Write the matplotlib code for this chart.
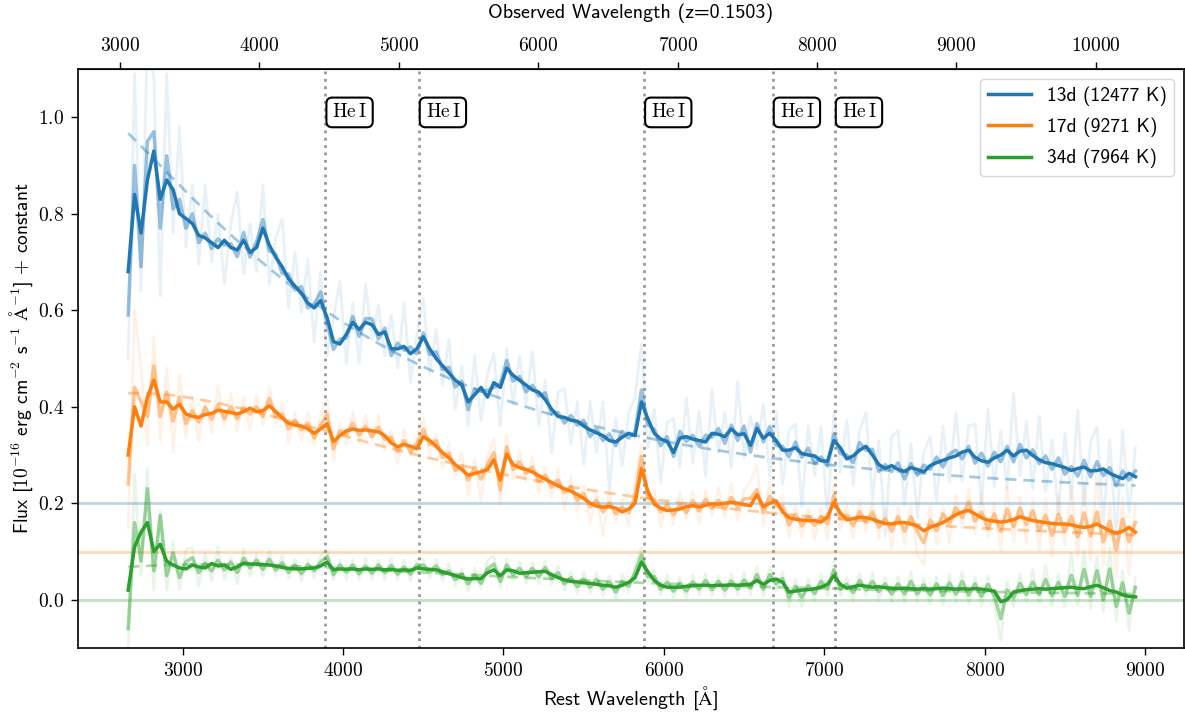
import numpy as np
import matplotlib
matplotlib.use("Agg")
import matplotlib.pyplot as plt
from matplotlib.ticker import FuncFormatter, MultipleLocator, FixedLocator

plt.rcParams['font.family'] = 'cmss10'
plt.rcParams['mathtext.fontset'] = 'cm'
plt.rcParams['axes.unicode_minus'] = False
plt.rcParams['axes.formatter.use_mathtext'] = True

# ---------------------------------------------------------------- data
z = 0.1503
wave = np.arange(2660, 8941, 40)          # rest wavelength grid [Å]

epochs = ['13d', '17d', '34d']
temps = [12477, 9271, 7964]               # blackbody temperatures [K]
offsets = [0.2, 0.1, 0.0]                 # vertical offsets
colors = ['#1f77b4', '#ff7f0e', '#2ca02c']
bb_flux_4000 = [0.375, 0.24, 0.065]       # blackbody flux at 4000 Å
he_lines = [3889, 4471, 5876, 6678, 7065]
obs_ticks = [3000, 4000, 5000, 6000, 7000, 8000, 9000, 10000]

# smoothed spectra (10^-16 erg cm^-2 s^-1 Å^-1)
flux_13d = [0.48, 0.64, 0.56, 0.67, 0.73, 0.63, 0.67, 0.65, 0.60, 0.59,
            0.58, 0.555, 0.55, 0.54, 0.53, 0.545, 0.53, 0.525, 0.545, 0.52,
            0.53, 0.57, 0.535, 0.51, 0.49, 0.465, 0.45, 0.435, 0.415, 0.405,
            0.42, 0.385, 0.335, 0.33, 0.35, 0.375, 0.36, 0.375, 0.37, 0.35,
            0.355, 0.32, 0.32, 0.325, 0.31, 0.32, 0.345, 0.32, 0.30, 0.285,
            0.27, 0.255, 0.245, 0.21, 0.225, 0.24, 0.22, 0.25, 0.24, 0.28,
            0.265, 0.255, 0.245, 0.235, 0.23, 0.215, 0.195, 0.18, 0.178, 0.172,
            0.17, 0.16, 0.152, 0.146, 0.14, 0.13, 0.127, 0.137, 0.145, 0.14,
            0.21, 0.175, 0.145, 0.133, 0.128, 0.105, 0.135, 0.138, 0.133, 0.13,
            0.127, 0.145, 0.143, 0.138, 0.154, 0.142, 0.144, 0.12, 0.155, 0.135,
            0.145, 0.13, 0.11, 0.11, 0.115, 0.103, 0.10, 0.098, 0.088, 0.087,
            0.13, 0.115, 0.092, 0.098, 0.11, 0.118, 0.10, 0.08, 0.072, 0.078,
            0.07, 0.066, 0.074, 0.07, 0.065, 0.078, 0.084, 0.089, 0.094, 0.098,
            0.106, 0.11, 0.095, 0.088, 0.085, 0.094, 0.10, 0.11, 0.098, 0.108,
            0.11, 0.099, 0.09, 0.084, 0.082, 0.078, 0.074, 0.068, 0.072, 0.075,
            0.067, 0.068, 0.071, 0.062, 0.056, 0.051, 0.062, 0.055]

flux_17d = [0.20, 0.30, 0.26, 0.32, 0.355, 0.31, 0.31, 0.295, 0.305, 0.285,
            0.28, 0.278, 0.284, 0.286, 0.293, 0.29, 0.288, 0.285, 0.29, 0.297,
            0.29, 0.292, 0.302, 0.29, 0.277, 0.266, 0.262, 0.26, 0.254, 0.245,
            0.254, 0.265, 0.228, 0.24, 0.25, 0.254, 0.251, 0.252, 0.25, 0.248,
            0.24, 0.225, 0.217, 0.222, 0.218, 0.213, 0.238, 0.23, 0.218, 0.205,
            0.194, 0.18, 0.17, 0.158, 0.162, 0.165, 0.17, 0.19, 0.148, 0.202,
            0.18, 0.174, 0.17, 0.165, 0.157, 0.15, 0.143, 0.136, 0.13, 0.125,
            0.118, 0.11, 0.10, 0.094, 0.092, 0.093, 0.09, 0.082, 0.088, 0.10,
            0.172, 0.125, 0.098, 0.09, 0.085, 0.086, 0.088, 0.093, 0.095, 0.092,
            0.096, 0.099, 0.098, 0.10, 0.102, 0.10, 0.097, 0.095, 0.118, 0.093,
            0.10, 0.105, 0.082, 0.07, 0.067, 0.065, 0.064, 0.064, 0.061, 0.072,
            0.102, 0.08, 0.066, 0.068, 0.071, 0.07, 0.067, 0.062, 0.058, 0.057,
            0.06, 0.06, 0.057, 0.053, 0.043, 0.05, 0.055, 0.06, 0.068, 0.076,
            0.082, 0.085, 0.078, 0.07, 0.065, 0.063, 0.061, 0.063, 0.066, 0.072,
            0.068, 0.064, 0.062, 0.06, 0.058, 0.057, 0.057, 0.055, 0.052, 0.05,
            0.052, 0.057, 0.05, 0.043, 0.038, 0.042, 0.05, 0.04]

flux_34d = [0.02, 0.11, 0.14, 0.16, 0.10, 0.115, 0.08, 0.072, 0.066, 0.064,
            0.072, 0.068, 0.066, 0.075, 0.07, 0.072, 0.063, 0.068, 0.076, 0.074,
            0.074, 0.073, 0.072, 0.07, 0.067, 0.065, 0.064, 0.064, 0.065, 0.066,
            0.07, 0.078, 0.062, 0.064, 0.063, 0.064, 0.062, 0.064, 0.063, 0.064,
            0.062, 0.063, 0.061, 0.062, 0.061, 0.066, 0.064, 0.063, 0.062, 0.058,
            0.054, 0.05, 0.046, 0.043, 0.044, 0.044, 0.056, 0.062, 0.05, 0.062,
            0.06, 0.055, 0.056, 0.057, 0.058, 0.059, 0.052, 0.046, 0.041, 0.038,
            0.037, 0.035, 0.034, 0.032, 0.03, 0.029, 0.026, 0.03, 0.036, 0.046,
            0.078, 0.058, 0.04, 0.03, 0.026, 0.026, 0.026, 0.028, 0.029, 0.03,
            0.03, 0.029, 0.03, 0.03, 0.031, 0.03, 0.031, 0.032, 0.04, 0.032,
            0.04, 0.043, 0.036, 0.016, 0.018, 0.02, 0.021, 0.023, 0.026, 0.032,
            0.05, 0.032, 0.024, 0.027, 0.03, 0.028, 0.026, 0.027, 0.025, 0.024,
            0.023, 0.024, 0.023, 0.022, 0.023, 0.022, 0.023, 0.024, 0.023, 0.022,
            0.023, 0.022, 0.023, 0.022, 0.02, 0.018, -0.004, 0.0, 0.016, 0.019,
            0.021, 0.022, 0.023, 0.022, 0.023, 0.024, 0.025, 0.026, 0.024, 0.023,
            0.027, 0.03, 0.025, 0.019, 0.016, 0.01, 0.007, 0.006]

# binned-spectrum departures from the smoothed curve (units of 0.001)
binned_13d = [-90, 60, -70, 80, 40, -60, 50, -40, 30, -20,
              20, -15, 10, -12, 18, -10, 8, -14, 16, -10,
              12, 18, -12, 6, -14, 10, -8, 14, -10, 8,
              18, -12, -16, 10, -8, 12, -14, 8, 12, -10,
              8, -14, 12, -8, 14, -10, 8, -12, 14, -8,
              12, -14, 8, -16, 12, -8, 14, -10, 8, 16,
              -12, 8, -14, 10, -8, 14, -10, 8, -12, 10,
              -8, 12, -14, 8, -10, 14, -8, 12, -10, 8,
              25, -12, 8, -14, 10, -8, 14, -10, 8, -12,
              14, -8, 12, -14, 8, -12, 16, -14, 10, -8,
              14, -10, 8, -14, 12, -8, 14, -16, 8, -10,
              14, -12, 8, -14, 16, -8, 12, -14, 8, -12,
              14, -16, 8, -12, 14, -8, 12, -14, 8, 12,
              -14, 8, -12, 16, -8, 12, -14, 8, -12, 14,
              -16, 12, -8, 14, -12, 16, -14, 8, -16, 14,
              -12, 18, -14, 12, -20, 16, -14, 12]
binned_17d = [-60, 40, 50, -40, 30, -30, 20, -25, 15, -20,
              12, -10, 15, -12, 10, -15, 12, -10, 8, -12,
              10, -12, 15, -10, 8, -12, 10, -8, 12, -10,
              8, 20, -15, 10, -8, 12, -10, 8, -12, 10,
              -8, 12, -10, 8, -12, 10, 15, -8, 12, -10,
              10, -12, 8, -10, 12, -15, 10, 15, -20, 15,
              -10, 12, -8, 10, -12, 8, -10, 12, -8, 10,
              -12, 10, -8, 12, -10, 8, -12, 10, -8, 12,
              25, -12, 10, -8, 12, -10, 8, -12, 10, -8,
              12, -10, 8, -12, 10, -8, 12, 15, 10, -12,
              15, -10, 12, -15, 10, -12, 8, -10, 12, -15,
              15, -12, 10, -15, 12, -10, 15, -12, 10, -15,
              12, -18, 15, -12, -25, 15, -12, 18, -10, 15,
              -12, 18, -15, 12, -18, 15, -20, 25, -15, 18,
              -12, 20, -18, 15, -25, 20, -15, 18, -22, 30,
              -20, 25, -30, 20, -35, 25, -30, 20]
binned_34d = [-80, 50, -60, 70, -40, 60, -30, 25, -20, 15,
              15, -12, 10, -15, 12, -10, 15, -12, 10, -8,
              8, -10, 12, -8, 10, -8, 8, -10, 8, -6,
              8, 12, -10, 8, -6, 8, -8, 6, -8, 8,
              -6, 8, -8, 6, -8, 6, 8, -6, 8, -6,
              6, -8, 8, -10, 8, -10, 8, 12, -12, 10,
              -8, 10, -8, 8, -10, 8, -8, 10, -8, 8,
              -10, 8, -8, 10, -8, 8, -10, 8, -8, 10,
              15, -10, 8, -8, 10, -8, 8, -10, 8, -8,
              10, -8, 8, -10, 8, -8, 10, -8, 12, -10,
              12, -10, 8, -12, 10, -15, 8, -10, 12, -10,
              12, -10, 8, -12, 10, -8, 12, -10, 8, -12,
              10, -12, 15, -10, 8, -12, 10, -15, 12, -10,
              15, -12, 10, -15, 12, -10, -35, 20, -12, 15,
              -10, 15, -12, 20, -15, 12, -18, 25, -15, 40,
              -20, 30, -25, 45, -30, 25, -35, 20]

# raw-spectrum departures from the smoothed curve (units of 0.001)
raw_13d = [-180, 250, -120, 300, 150, -200, 220, -90, 180, -60,
           80, -60, 110, -40, 70, -90, 50, 120, -70, 60,
           -50, 90, -80, 40, 100, -60, 70, -40, 90, -70,
           60, -80, 50, 130, -60, 40, -70, 80, -30, 60,
           -50, 70, -40, 90, -60, 30, 80, -50, 60, -40,
           70, -60, 40, -50, 80, -70, 50, 60, -80, 40,
           -60, 50, -40, 80, -70, 40, -90, 50, 60, -50,
           40, -80, 60, -40, 70, -100, 50, -60, 40, 80,
           120, -60, 50, -90, 40, 70, -60, 80, -50, 60,
           -70, 90, -40, 50, -80, 110, -50, 60, -40, 70,
           -90, 60, -70, 40, 50, -110, 60, -40, 70, -120,
           60, -50, 80, -60, 40, 70, -90, 50, -140, 60,
           80, -70, 50, -100, 40, 60, -80, 70, -50, 90,
           -60, 50, 70, -90, 110, -60, 50, -80, 130, -50,
           60, -70, 90, -60, 50, -100, 70, -60, 120, -80,
           60, 90, -110, 70, -130, 100, -80, 60]
raw_17d = [-150, 200, 120, -100, 90, -80, 70, -90, 60, -50,
           40, -50, 30, -40, 50, -30, 40, -35, 30, -45,
           35, -30, 40, -25, 30, -40, 25, -30, 35, -25,
           30, 50, -40, 25, -30, 35, -25, 30, -20, 35,
           -30, 25, -35, 30, -20, 25, 40, -30, 25, -35,
           30, -25, 35, -40, 30, -60, 25, 45, -50, 40,
           -30, 35, -25, 30, -35, 25, -30, 35, -40, 30,
           -35, 25, -40, 30, -60, 35, -30, 25, -35, 40,
           50, -35, 30, -40, 25, -30, 35, -25, 30, -35,
           30, -25, 35, -30, 40, -35, 30, 50, 60, -40,
           45, -30, 35, -40, 30, -35, 25, -40, 30, -45,
           40, -35, 30, -40, 35, -30, 40, -35, 30, -50,
           35, -45, 40, -60, -70, 45, -40, 35, -50, 40,
           -35, 45, -40, 50, -35, 40, -60, 70, -45, 40,
           -50, 45, -60, 50, -70, 60, -45, 80, -60, 90,
           -70, 110, -80, 60, -90, 70, -100, 60]
raw_34d = [-120, 150, -90, 110, -80, 70, -60, 50, -45, 40,
           35, -40, 30, -35, 40, -30, 25, -35, 30, -25,
           20, -25, 30, -20, 25, -20, 20, -25, 18, -20,
           22, 25, -20, 18, -22, 20, -18, 22, -20, 18,
           -20, 22, -18, 20, -22, 18, 20, -18, 22, -20,
           20, -22, 18, -25, 22, -20, 25, 30, -25, 22,
           -20, 25, -22, 20, -25, 22, -20, 25, -22, 20,
           -25, 22, -20, 25, -22, 20, -25, 22, -20, 25,
           30, -25, 22, -20, 25, -22, 20, -25, 22, -20,
           25, -22, 20, -25, 22, -20, 25, -22, 28, -25,
           28, -25, 22, -30, 25, -35, 22, -25, 28, -25,
           30, -25, 22, -30, 25, -20, 30, -28, 22, -30,
           25, -30, 35, -25, 22, -30, 25, -35, 30, -25,
           35, -30, 25, -35, 30, -25, -80, 40, -30, 35,
           -25, 40, -30, 50, -35, 30, -40, 70, -35, 80,
           -45, 60, -50, 90, -60, 50, -70, 40]

smooth = [flux_13d, flux_17d, flux_34d]
binned = [binned_13d, binned_17d, binned_34d]
raw = [raw_13d, raw_17d, raw_34d]


def planck(wl, temp):
    """Planck B_lambda shape (arbitrary units), wl in Å."""
    x = 1.4388e8 / (wl * temp)
    return wl ** -5.0 / np.expm1(x)


# ---------------------------------------------------------------- figure
fig = plt.figure(figsize=(11.85, 7.15), dpi=100)
ax = fig.add_axes([0.0658, 0.0937, 0.9334, 0.8098])

for k in range(3):
    c, off = colors[k], offsets[k]
    s = np.asarray(smooth[k]) + off
    ax.axhline(off, color=c, alpha=0.3, lw=2, zorder=1)
    ax.plot(wave, s + np.asarray(raw[k]) * 1e-3, color=c, alpha=0.1, lw=2, zorder=2)
    ax.plot(wave, s + np.asarray(binned[k]) * 1e-3, color=c, alpha=0.45, lw=2.5, zorder=3)
    ax.plot(wave, s, color=c, lw=2.5, zorder=4,
            label=f'{epochs[k]} ({temps[k]} K)')
    bb = planck(wave * (1 + z), temps[k]) / planck(4000 * (1 + z), temps[k])
    ax.plot(wave, bb_flux_4000[k] * bb + off, color=c, alpha=0.4, lw=2,
            ls=(0, (4, 2.5)), zorder=3)

for wl in he_lines:
    ax.axvline(wl, color='0.6', ls=':', lw=2, zorder=0)
    ax.annotate(r'$\mathrm{He\,I}$', xy=(wl, 1.01), xytext=(5, 0),
                textcoords='offset points', ha='left', va='center', fontsize=14,
                bbox=dict(boxstyle='round,pad=0.3', fc='white', ec='black', lw=1.5),
                zorder=6)

ax.set_xlim(2347, 9243)
ax.set_ylim(-0.1, 1.1)
ax.xaxis.set_major_locator(MultipleLocator(1000))
ax.yaxis.set_major_locator(MultipleLocator(0.2))
ax.xaxis.set_major_formatter(FuncFormatter(lambda v, p: f'${v:.0f}$'))
ax.yaxis.set_major_formatter(FuncFormatter(lambda v, p: f'${v:.1f}$'))
ax.tick_params(labelsize=14, length=5, width=1, pad=5)
for sp in ax.spines.values():
    sp.set_linewidth(1.2)

ax.set_xlabel(r'Rest Wavelength [$\mathrm{\AA}$]', fontsize=14.5, labelpad=3)
ax.set_ylabel(r'Flux [$10^{-16}$ erg cm$^{-2}$ s$^{-1}$ $\mathrm{\AA}^{-1}$] $+$ constant',
              fontsize=14, labelpad=2)

top = ax.secondary_xaxis('top', functions=(lambda x: x * (1 + z), lambda x: x / (1 + z)))
top.xaxis.set_major_locator(FixedLocator(obs_ticks))
top.xaxis.set_major_formatter(FuncFormatter(lambda v, p: f'${v:.0f}$'))
top.tick_params(labelsize=14, length=5, width=1, pad=5)
top.set_xlabel(f'Observed Wavelength (z={z})', fontsize=14.5, labelpad=14)

ax.legend(loc='upper right', fontsize=14, handlelength=2.2, labelspacing=0.6)

fig.savefig('out.png', dpi=100)
